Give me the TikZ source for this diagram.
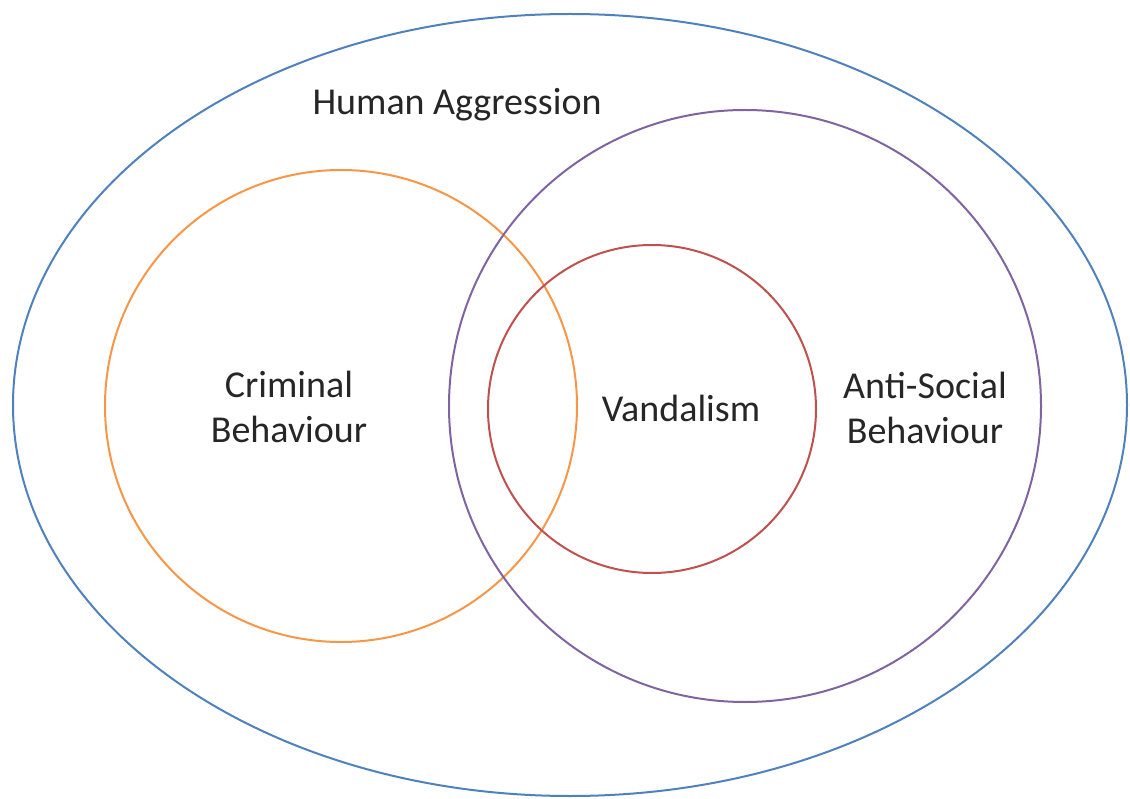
\documentclass[tikz,border=0pt]{standalone}
\usepackage{fontspec}
\setmainfont{Carlito}
\begin{document}
\begin{tikzpicture}[x=1pt,y=-1pt,
  ring/.style={line width=2pt},
  lbl/.style={font=\fontsize{38}{45}\selectfont, text=black!85, align=center, inner sep=0pt}]
\useasboundingbox (0,0) rectangle (1130,799);
\definecolor{cblue}{HTML}{4F81BD}
\definecolor{corange}{HTML}{F79646}
\definecolor{cpurple}{HTML}{8064A2}
\definecolor{cred}{HTML}{C0504D}
% circles of the diagram
\draw[ring, cblue] (570,405) ellipse [x radius=557, y radius=391];
\draw[ring, corange] (341,406) circle [radius=236];
\draw[ring, cpurple] (745,406) circle [radius=296];
\draw[ring, cred] (652,409) circle [radius=164];
% labels
\node[lbl] (human) at (457,105) {Human Aggression};
\node[lbl] (crim) at (289,407) {Criminal\\Behaviour};
\node[lbl] (vand) at (681,408) {Vandalism};
\node[lbl] (anti) at (925,408) {Anti-Social\\Behaviour};
\end{tikzpicture}
\end{document}
